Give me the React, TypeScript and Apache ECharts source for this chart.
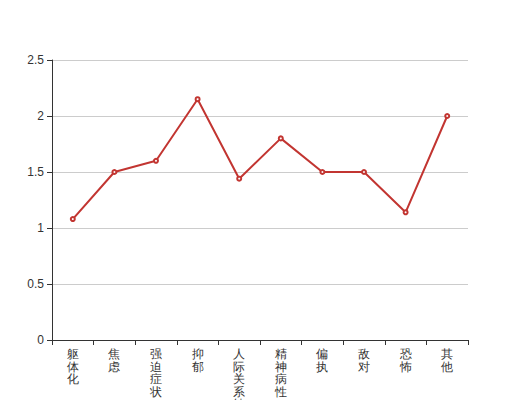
import React, { useEffect, useRef } from "react";
import * as echarts from "echarts";

const categories = ["躯体化", "焦虑", "强迫症状", "抑郁", "人际关系敏感", "精神病性", "偏执", "敌对", "恐怖", "其他"];
const values = [1.08, 1.5, 1.6, 2.15, 1.44, 1.8, 1.5, 1.5, 1.14, 2.0];

export default function App() {
  const ref = useRef<HTMLDivElement>(null);
  useEffect(() => {
    const chart = echarts.init(ref.current!, null, { renderer: "svg" });
    chart.setOption({
      animation: false,
      grid: { left: 52, right: 52, top: 60, bottom: 60, containLabel: false, outerBoundsMode: "none" },
      xAxis: {
        type: "category",
        data: categories,
        boundaryGap: true,
        axisLine: { lineStyle: { color: "#333" } },
        axisTick: { show: true, alignWithLabel: false, lineStyle: { color: "#333" } },
        axisLabel: {
          color: "#333",
          fontSize: 12,
          interval: 0,
          lineHeight: 12.5,
          formatter: (v: string) => v.split("").join("\n"),
        },
      },
      yAxis: {
        type: "value",
        min: 0,
        max: 2.5,
        interval: 0.5,
        axisLine: { show: true, lineStyle: { color: "#333" } },
        axisTick: { show: true, lineStyle: { color: "#333" } },
        axisLabel: { color: "#333", fontSize: 12 },
        splitLine: { lineStyle: { color: "#ccc" } },
      },
      series: [
        {
          type: "line",
          data: values,
          symbol: "emptyCircle",
          symbolSize: 4,
          itemStyle: { color: "#c23531" },
          lineStyle: { color: "#c23531", width: 2 },
        },
      ],
    });
    return () => chart.dispose();
  }, []);
  return <div ref={ref} style={{ position: "absolute", left: 0, top: 0, width: 520, height: 400 }} />;
}
